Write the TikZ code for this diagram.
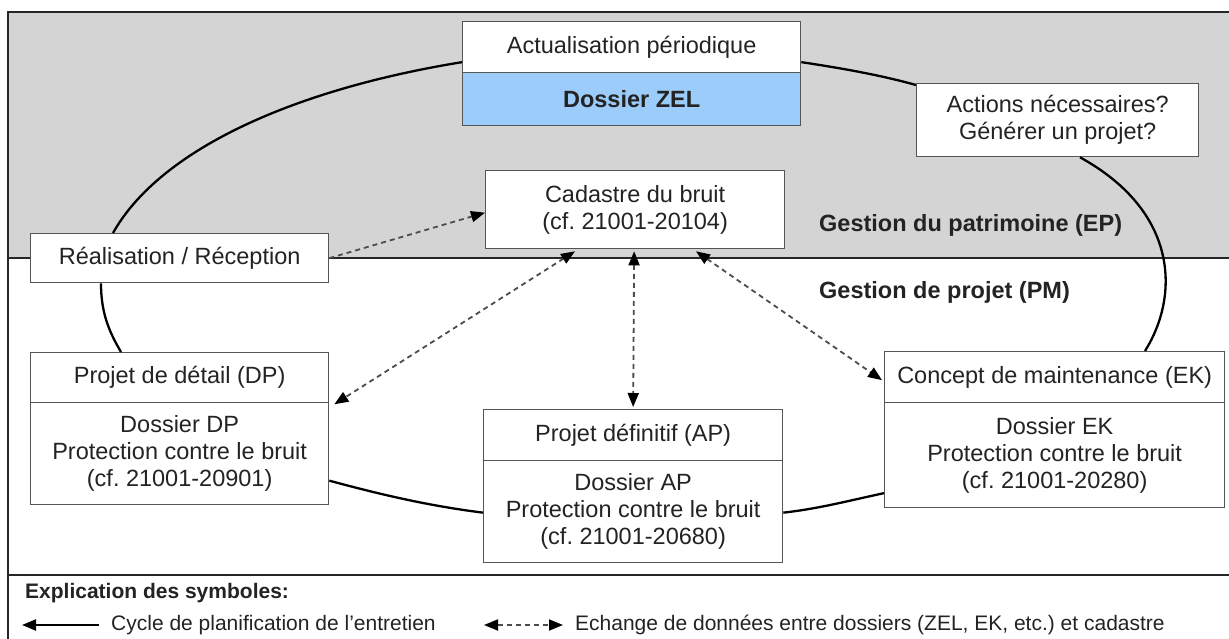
\documentclass[tikz,border=0pt]{standalone}
\usepackage{fontspec}
\setmainfont{Liberation Sans}
\usetikzlibrary{arrows.meta,calc}
\definecolor{bggray}{RGB}{212,212,212}
\definecolor{zelblue}{RGB}{155,204,250}
\definecolor{txt}{RGB}{35,35,35}
\definecolor{edgec}{RGB}{85,85,85}
\frenchspacing
\begin{document}
\frenchspacing
\begin{tikzpicture}[x=1pt,y=-1pt,
  >={Triangle[length=14pt,width=11pt,color=black]},
  box/.style={draw=edgec, line width=1.3pt, fill=white, inner sep=0pt, align=center,
    text=txt, anchor=north west, font=\fontsize{23.5}{27}\selectfont},
  lbl/.style={inner sep=0pt, text=txt, anchor=west, font=\bfseries\fontsize{23.5}{27}\selectfont},
  legtxt/.style={inner sep=0pt, text=txt, anchor=west, font=\fontsize{21}{24}\selectfont},
  frameline/.style={line width=2.2pt, draw=black!85},
  cyc/.style={line width=2.3pt, draw=black},
  xch/.style={line width=1.8pt, draw=black!70, dash pattern=on 5pt off 4pt},
]
\useasboundingbox (0,0) rectangle (1229,639);
\fill[white] (0,0) rectangle (1229,639);
% bands and frame
\fill[bggray] (8,12) rectangle (1229,258);
\draw[frameline] (1229,12) -- (8,12) -- (8,639);
\draw[frameline] (8,258) -- (1229,258);
\draw[frameline] (8,575) -- (1229,575);

% boxes
\node[box, minimum width=338pt, minimum height=51pt] (act1) at (462,21) {Actualisation périodique};
\node[box, fill=zelblue, minimum width=338pt, minimum height=53pt] (act2) at (462,72) {\bfseries Dossier ZEL};
\node[box, minimum width=282pt, minimum height=73pt] (actn) at (916,83) {Actions nécessaires?\\Générer un projet?};
\node[box, minimum width=299pt, minimum height=78pt] (cad) at (485,170) {Cadastre du bruit\\(cf. 21001-20104)};
\node[box, minimum width=298pt, minimum height=49pt] (real) at (30,233) {Réalisation / Réception};
\node[box, minimum width=298pt, minimum height=50pt] (dpt) at (30,352) {Projet de détail (DP)};
\node[box, minimum width=298pt, minimum height=102pt] (dpb) at (30,402) {Dossier DP\\Protection contre le bruit\\(cf. 21001-20901)};
\node[box, minimum width=299pt, minimum height=51pt] (apt) at (483,409) {Projet définitif (AP)};
\node[box, minimum width=299pt, minimum height=102pt] (apb) at (483,460) {Dossier AP\\Protection contre le bruit\\(cf. 21001-20680)};
\node[box, minimum width=340pt, minimum height=51pt] (ekt) at (884,351) {Concept de maintenance (EK)};
\node[box, minimum width=340pt, minimum height=105pt] (ekb) at (884,402) {Dossier EK\\Protection contre le bruit\\(cf. 21001-20280)};

\node[lbl] (ep) at (819,225) {Gestion du patrimoine (EP)};
\node[lbl] (pm) at (819,292) {Gestion de projet (PM)};

% cycle end points
\coordinate (s1) at ($(act1.west)+(0,15)$);
\coordinate (e1) at ($(real.north west)+(83,0)$);
\coordinate (s2) at ($(real.south west)+(71,0)$);
\coordinate (e2) at ($(dpt.north west)+(91,0)$);
\coordinate (s3) at ($(dpb.east)+(0,27)$);
\coordinate (e3) at ($(apb.west)+(0,1)$);
\coordinate (s4) at ($(apb.east)+(0,1)$);
\coordinate (e4) at ($(ekb.west)+(0,38)$);
\coordinate (s5) at ($(ekt.north west)+(261,0)$);
\coordinate (e5) at ($(actn.south west)+(164,0)$);
\coordinate (s6) at ($(act1.east)+(0,15)$);
\coordinate (e6) at ($(actn.north west)+(0,2)$);

\draw[cyc] (s1) .. controls ($(s1)+(-172,28)$) and ($(e1)+(46,-82)$) .. (e1);
\draw[cyc] (s2) .. controls ($(s2)+(0,28)$) and ($(e2)+(-13,-22)$) .. (e2);
\draw[cyc] (s3) .. controls ($(s3)+(48,13)$) and ($(e3)+(-56,-7)$) .. (e3);
\draw[cyc] (s4) .. controls ($(s4)+(36,-4)$) and ($(e4)+(-33,7)$) .. (e4);
\draw[cyc] (s5) .. controls ($(s5)+(35,-56)$) and ($(e5)+(98,54)$) .. (e5);
\draw[cyc] (s6) .. controls ($(s6)+(40,6)$) and ($(e6)+(-36,-10)$) .. (e6);

% data exchange arrows
\draw[xch, ->] (real.east) -- ($(cad.west)+(0,3)$);
\draw[xch, <->] ($(cad.south west)+(90,2)$) -- ($(dpt.south east)+(5,1)$);
\draw[xch, <->] ($(cad.south)+(-1,2)$) -- ($(apt.north)+(0,-2)$);
\draw[xch, <->] ($(cad.south west)+(211,2)$) -- ($(ekt.west)+(-2,3)$);

% legend
\node[legtxt, font=\bfseries\fontsize{21}{24}\selectfont] (legt) at (25,593) {Explication des symboles:};
\coordinate (la1) at (22,625);
\coordinate (la2) at (99,625);
\draw[line width=2.3pt, <-] (la1) -- (la2);
\node[legtxt] (leg1) at (111,625) {Cycle de planification de l'entretien};
\coordinate (lb1) at (484,625);
\coordinate (lb2) at (563,625);
\draw[xch, <->] (lb1) -- (lb2);
\node[legtxt] (leg2) at (575,625) {Echange de données entre dossiers (ZEL, EK, etc.) et cadastre};
\end{tikzpicture}
\end{document}
